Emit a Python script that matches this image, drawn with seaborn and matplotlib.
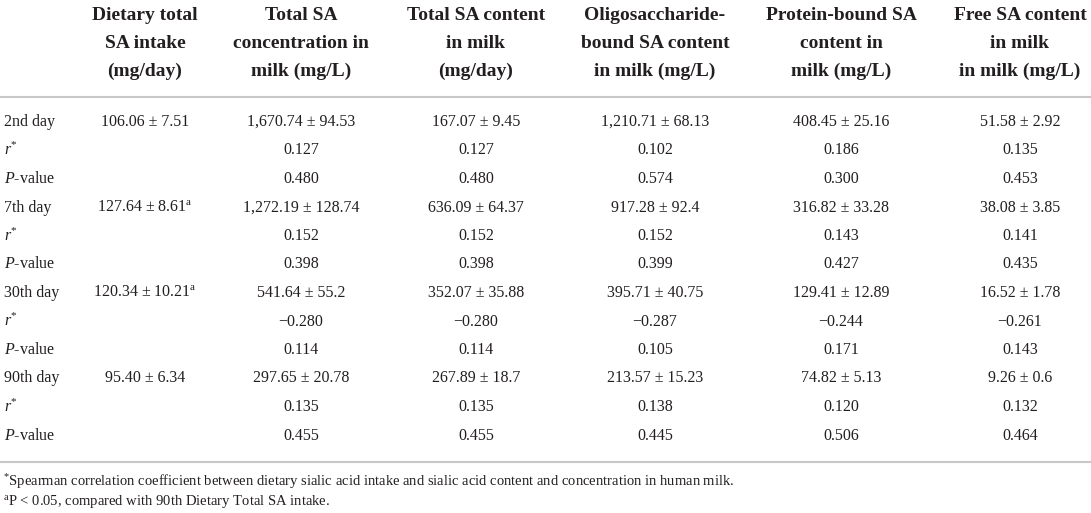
import matplotlib
matplotlib.use("Agg")
import matplotlib.pyplot as plt
import seaborn as sns

# Table content
headers = [
    "Dietary total\nSA intake\n(mg/day)",
    "Total SA\nconcentration in\nmilk (mg/L)",
    "Total SA content\nin milk\n(mg/day)",
    "Oligosaccharide-\nbound SA content\nin milk (mg/L)",
    "Protein-bound SA\ncontent in\nmilk (mg/L)",
    "Free SA content\nin milk\nin milk (mg/L)",
]
days = ["2nd day", "7th day", "30th day", "90th day"]
intake = ["106.06 ± 7.51", "127.64 ± 8.61$^{\\rm a}$", "120.34 ± 10.21$^{\\rm a}$", "95.40 ± 6.34"]

total_conc = ["1,670.74 ± 94.53", "1,272.19 ± 128.74", "541.64 ± 55.2", "297.65 ± 20.78"]
total_conc_r = ["0.127", "0.152", "−0.280", "0.135"]
total_conc_p = ["0.480", "0.398", "0.114", "0.455"]

total_content = ["167.07 ± 9.45", "636.09 ± 64.37", "352.07 ± 35.88", "267.89 ± 18.7"]
total_content_r = ["0.127", "0.152", "−0.280", "0.135"]
total_content_p = ["0.480", "0.398", "0.114", "0.455"]

oligo = ["1,210.71 ± 68.13", "917.28 ± 92.4", "395.71 ± 40.75", "213.57 ± 15.23"]
oligo_r = ["0.102", "0.152", "−0.287", "0.138"]
oligo_p = ["0.574", "0.399", "0.105", "0.445"]

protein = ["408.45 ± 25.16", "316.82 ± 33.28", "129.41 ± 12.89", "74.82 ± 5.13"]
protein_r = ["0.186", "0.143", "−0.244", "0.120"]
protein_p = ["0.300", "0.427", "0.171", "0.506"]

free = ["51.58 ± 2.92", "38.08 ± 3.85", "16.52 ± 1.78", "9.26 ± 0.6"]
free_r = ["0.135", "0.141", "−0.261", "0.132"]
free_p = ["0.453", "0.435", "0.143", "0.464"]

footnotes = [
    "$^{*}$Spearman correlation coefficient between dietary sialic acid intake and sialic acid content and concentration in human milk.",
    "$^{\\rm a}$P < 0.05, compared with 90th Dietary Total SA intake.",
]

sns.set_style("white")
plt.rcParams["font.family"] = ["Liberation Serif", "DejaVu Serif"]
plt.rcParams["mathtext.fontset"] = "custom"
plt.rcParams["mathtext.rm"] = "Liberation Serif"
plt.rcParams["mathtext.it"] = "Liberation Serif:italic"
plt.rcParams["mathtext.bf"] = "Liberation Serif:bold"

ink = "#231f20"
rule = "#c8c8c8"

fig = plt.figure(figsize=(10.91, 5.13), dpi=100)
ax = fig.add_axes([0, 0, 1, 1])
ax.set_xlim(0, 1091)
ax.set_ylim(513, 0)
ax.axis("off")

col_x = [145, 301, 476, 655, 841, 1020]

# header, one text per line
for x, h in zip(col_x, headers):
    for j, line in enumerate(h.split("\n")):
        ax.text(x, 15 + 28 * j, line, ha="center", va="center", fontsize=14,
                fontweight="bold", color=ink)

ax.plot([0, 1091], [97, 97], color=rule, lw=1.5)
ax.plot([0, 1091], [462, 462], color=rule, lw=1.5)

# body rows
milk_cols = [
    (total_conc, total_conc_r, total_conc_p),
    (total_content, total_content_r, total_content_p),
    (oligo, oligo_r, oligo_p),
    (protein, protein_r, protein_p),
    (free, free_r, free_p),
]
row0, step = 122, 28.5
for i, day in enumerate(days):
    y_mean = row0 + step * (3 * i)
    y_r = y_mean + step
    y_p = y_mean + 2 * step
    ax.text(4, y_mean, day, ha="left", va="center", fontsize=11.5, color=ink)
    ax.text(4, y_r, "$r^{*}$", ha="left", va="center", fontsize=11.5, color=ink)
    ax.text(4, y_p, "$P$-value", ha="left", va="center", fontsize=11.5, color=ink)
    ax.text(col_x[0], y_mean, intake[i], ha="center", va="center", fontsize=11.5, color=ink)
    for x, (m, r, p) in zip(col_x[1:], milk_cols):
        ax.text(x, y_mean, m[i], ha="center", va="center", fontsize=11.5, color=ink)
        ax.text(x, y_r, r[i], ha="center", va="center", fontsize=11.5, color=ink)
        ax.text(x, y_p, p[i], ha="center", va="center", fontsize=11.5, color=ink)

# footnotes
for k, note in enumerate(footnotes):
    ax.text(3, 482 + 20 * k, note, ha="left", va="center", fontsize=10.5, color=ink)

fig.savefig("out.png", dpi=100)
